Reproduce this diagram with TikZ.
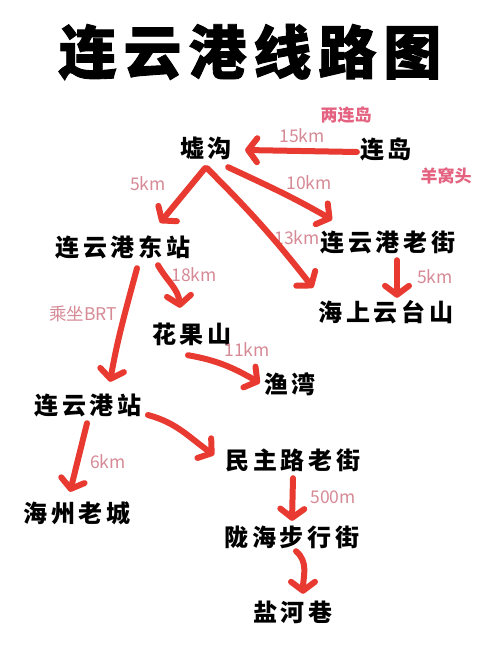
\documentclass[tikz,border=0pt]{standalone}
\usepackage{fontspec}
\newfontfamily\cjk{Noto Sans CJK SC}
\newfontfamily\cjkwide{Noto Sans CJK SC}[LetterSpace=16]
\newfontfamily\cjktitle{Noto Sans CJK SC}[LetterSpace=12,BoldFeatures={FakeBold=1.5}]
\usetikzlibrary{arrows.meta}
\definecolor{routered}{RGB}{232,58,48}
\definecolor{areapink}{RGB}{228,98,128}
\definecolor{distpink}{RGB}{214,138,150}

\begin{document}
\begin{tikzpicture}[x=1pt,y=1pt,
    title/.style={font=\cjktitle\bfseries\fontsize{58}{58}\selectfont},
    place/.style={font=\cjkwide\bfseries\fontsize{24}{24}\selectfont,
        text height=21pt, text depth=3pt, inner sep=3pt},
    area/.style={font=\cjk\bfseries\fontsize{17}{17}\selectfont, text=areapink},
    dist/.style={font=\cjk\fontsize{17.5}{17.5}\selectfont, text=distpink},
    route/.style={routered, line width=6pt, line cap=round,
        -{Straight Barb[length=9pt,width=24pt,round]}}]
    \fill[white] (0,0) rectangle (500,-654);
    \useasboundingbox (0,0) rectangle (500,-654);

    % title
    \node[title] (title) at (250,-52) {连云港线路图};

    % places
    \node[place] (xugou) at (206,-148) {墟沟};
    \node[place] (liandao) at (386,-149) {连岛};
    \node[place] (dongzhan) at (123,-247) {连云港东站};
    \node[place] (laojie) at (388,-242) {连云港老街};
    \node[place] (haishang) at (386,-312) {海上云台山};
    \node[place] (huaguo) at (192,-334) {花果山};
    \node[place] (yuwan) at (290,-384) {渔湾};
    \node[place] (zhan) at (88,-405) {连云港站};
    \node[place] (minzhu) at (293,-460) {民主路老街};
    \node[place] (haizhou) at (77,-513) {海州老城};
    \node[place] (longhai) at (292,-537) {陇海步行街};
    \node[place] (yanhe) at (293,-612) {盐河巷};

    % side names
    \node[area] (lianglian) at (346,-115) {两连岛};
    \node[area] (yangwo) at (446,-176) {羊窝头};

    % distances
    \node[dist] (d15) at (302,-136) {15km};
    \node[dist] (d5a) at (148,-184) {5km};
    \node[dist] (d10) at (309,-183) {10km};
    \node[dist] (d13) at (297,-238) {13km};
    \node[dist] (d18) at (194,-275) {18km};
    \node[dist] (d5b) at (435,-277) {5km};
    \node[dist] (brt) at (83,-314) {乘坐BRT};
    \node[dist] (d11) at (247,-350) {11km};
    \node[dist] (d6) at (108,-462) {6km};
    \node[dist] (d500) at (333,-497) {500m};

    % routes
    \draw[route] ([yshift=-3pt]liandao.west) -- ([xshift=10pt,yshift=-2pt]xugou.east);
    \draw[route] ([xshift=-1pt,yshift=-5pt]xugou.south) -- ([shift={(37,9)}]dongzhan.north);
    \draw[route] ([xshift=1pt,yshift=-5pt]xugou.south) to[out=-45,in=128] ([shift={(-2,9)}]haishang.north west);
    \draw[route] ([shift={(-7,-4)}]xugou.south east) to[out=-25,in=150] ([shift={(15,7)}]laojie.north west);
    \draw[route] ([shift={(9,-3)}]laojie.south) -- ([shift={(11,-1)}]haishang.north);
    \draw[route] ([shift={(35,-3)}]dongzhan.south) to[out=-60,in=95] ([shift={(-12,11)}]huaguo.north);
    \draw[route] ([shift={(14,-6)}]dongzhan.south) to[out=-105,in=80] ([shift={(22,8)}]zhan.north);
    \draw[route] ([shift={(-4,-6)}]huaguo.south) to[out=-10,in=150] ([shift={(-1,1)}]yuwan.west);
    \draw[route] ([shift={(3,-10)}]zhan.east) to[out=-15,in=145] ([shift={(-8,5)}]minzhu.west);
    \draw[route] ([shift={(-1,-3)}]zhan.south) -- ([shift={(-7,6)}]haizhou.north);
    \draw[route] ([yshift=-3pt]minzhu.south) -- ([yshift=1pt]longhai.north);
    \draw[route] ([shift={(4,1)}]longhai.south) to[out=-40,in=90] ([shift={(10,3)}]yanhe.north);
\end{tikzpicture}
\end{document}
